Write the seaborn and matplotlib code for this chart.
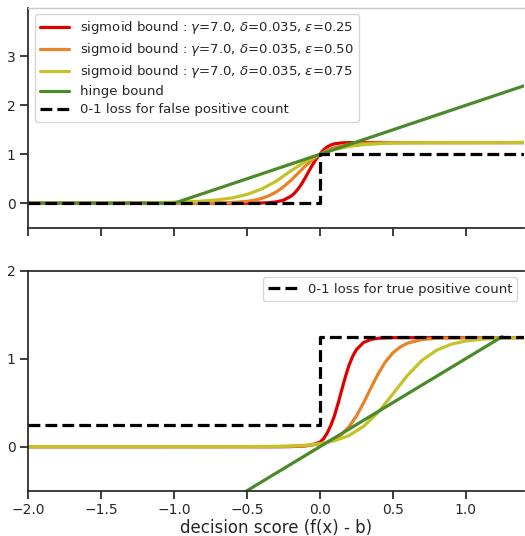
import numpy as np
import pandas as pd
import matplotlib
matplotlib.use("Agg")
import matplotlib.pyplot as plt
import seaborn as sns

# ---------------- data ----------------
# top panel: false-positive bounds
top_red_x = [-2.0, -0.5, -0.4, -0.35, -0.3, -0.25, -0.2, -0.175, -0.15, -0.125, -0.1, -0.075,
             -0.05, -0.025, 0.0, 0.025, 0.05, 0.075, 0.1, 0.15, 0.2, 0.3, 0.5, 1.4]
top_red_y = [0.0, 0.0, 0.005, 0.011, 0.027, 0.062, 0.14, 0.203, 0.289, 0.397, 0.523, 0.658,
             0.789, 0.906, 1.0, 1.09, 1.15, 1.19, 1.215, 1.233, 1.238, 1.24, 1.24, 1.24]

top_orange_x = [-2.0, -1.0, -0.8, -0.7, -0.6, -0.5, -0.45, -0.4, -0.35, -0.3, -0.25, -0.2,
                -0.15, -0.1, -0.05, 0.0, 0.05, 0.1, 0.15, 0.2, 0.25, 0.3, 0.4, 0.5, 1.4]
top_orange_y = [0.0, 0.0, 0.002, 0.006, 0.015, 0.039, 0.062, 0.098, 0.152, 0.229, 0.334, 0.464,
                0.611, 0.759, 0.892, 1.0, 1.08, 1.136, 1.174, 1.199, 1.214, 1.224, 1.234, 1.238, 1.24]

top_yellow_x = [-2.0, -1.5, -1.2, -1.0, -0.9, -0.8, -0.7, -0.6, -0.5, -0.4, -0.3, -0.2,
                -0.1, 0.0, 0.1, 0.2, 0.3, 0.4, 0.5, 0.6, 0.8, 1.4]
top_yellow_y = [0.0, 0.0, 0.005, 0.02, 0.03, 0.045, 0.07, 0.11, 0.18, 0.29, 0.45, 0.66,
                0.85, 1.0, 1.1, 1.161, 1.197, 1.217, 1.228, 1.233, 1.238, 1.24]

top_hinge_x = [-2.0, -1.0, 1.4]
top_hinge_y = [0.0, 0.0, 2.4]

top_step_x = [-2.0, 0.0, 0.0, 1.4]
top_step_y = [0.0, 0.0, 1.0, 1.0]

# bottom panel: true-positive bounds
bot_red_x = [-2.0, -0.3, -0.2, -0.1, -0.05, 0.0, 0.025, 0.05, 0.075, 0.1, 0.125, 0.15, 0.175,
             0.2, 0.225, 0.25, 0.3, 0.35, 0.4, 0.5, 1.4]
bot_red_y = [0.0, 0.0, 0.001, 0.009, 0.024, 0.05, 0.09, 0.155, 0.241, 0.353, 0.492, 0.645, 0.795,
             0.926, 1.028, 1.102, 1.185, 1.219, 1.232, 1.239, 1.24]

bot_orange_x = [-2.0, -0.3, -0.2, -0.1, 0.0, 0.05, 0.1, 0.15, 0.2, 0.25, 0.3, 0.35, 0.4,
                0.45, 0.5, 0.55, 0.6, 0.7, 0.8, 1.0, 1.4]
bot_orange_y = [0.0, 0.001, 0.003, 0.01, 0.03, 0.051, 0.086, 0.142, 0.227, 0.347, 0.499, 0.668,
                0.83, 0.965, 1.065, 1.132, 1.176, 1.218, 1.232, 1.238, 1.24]

bot_yellow_x = [-2.0, -0.5, -0.3, -0.2, -0.1, 0.0, 0.1, 0.2, 0.3, 0.4, 0.5, 0.6, 0.7, 0.8,
                0.9, 1.0, 1.1, 1.2, 1.4]
bot_yellow_y = [0.0, 0.001, 0.004, 0.009, 0.017, 0.034, 0.067, 0.127, 0.232, 0.392, 0.598, 0.809,
                0.981, 1.096, 1.164, 1.201, 1.22, 1.23, 1.238]

bot_hinge_x = [-2.0, 1.25]
bot_hinge_y = [-2.0, 1.25]

bot_step_x = [-2.0, 0.0, 0.0, 1.4]
bot_step_y = [0.25, 0.25, 1.25, 1.25]

labels_sig = [r"sigmoid bound : $\gamma$=7.0, $\delta$=0.035, $\varepsilon$=0.25",
              r"sigmoid bound : $\gamma$=7.0, $\delta$=0.035, $\varepsilon$=0.50",
              r"sigmoid bound : $\gamma$=7.0, $\delta$=0.035, $\varepsilon$=0.75"]
label_hinge = "hinge bound"
label_fp = "0-1 loss for false positive count"
label_tp = "0-1 loss for true positive count"
xlabel = "decision score (f(x) - b)"

top_yticks = [0, 1, 2, 3]
bot_yticks = [0, 1, 2]
x_ticks = [-2.0, -1.5, -1.0, -0.5, 0.0, 0.5, 1.0]

# ---------------- style ----------------
sns.set_style("ticks")
plt.rcParams["font.family"] = ["DejaVu Sans"]
plt.rcParams["axes.edgecolor"] = "#262626"
plt.rcParams["xtick.color"] = "#262626"
plt.rcParams["ytick.color"] = "#262626"

c_red = "#e00000"
c_orange = "#e8832a"
c_yellow = "#c3c22a"
c_green = "#4b8a28"
LW = 2.3

fig = plt.figure(figsize=(5.25, 5.36), dpi=100)
W, H = 525.0, 536.0
x0, x1 = 28.3, 524.0
ax_top = fig.add_axes([x0 / W, (H - 227.7) / H, (x1 - x0) / W, 220.2 / H])
ax_bot = fig.add_axes([x0 / W, (H - 490.7) / H, (x1 - x0) / W, 220.0 / H], sharex=ax_top)


def draw(ax, xs, ys, color, label=None, ls="-"):
    df = pd.DataFrame({"x": xs, "y": ys})
    sns.lineplot(data=df, x="x", y="y", ax=ax, color=color, lw=LW, ls=ls,
                 label=label, sort=False, estimator=None)


draw(ax_top, top_red_x, top_red_y, c_red, labels_sig[0])
draw(ax_top, top_orange_x, top_orange_y, c_orange, labels_sig[1])
draw(ax_top, top_yellow_x, top_yellow_y, c_yellow, labels_sig[2])
draw(ax_top, top_hinge_x, top_hinge_y, c_green, label_hinge)
draw(ax_top, top_step_x, top_step_y, "black", label_fp, ls="--")

draw(ax_bot, bot_red_x, bot_red_y, c_red)
draw(ax_bot, bot_orange_x, bot_orange_y, c_orange)
draw(ax_bot, bot_yellow_x, bot_yellow_y, c_yellow)
draw(ax_bot, bot_hinge_x, bot_hinge_y, c_green)
draw(ax_bot, bot_step_x, bot_step_y, "black", label_tp, ls="--")

ax_top.set_xlim(-2.0, 1.4)
ax_top.set_ylim(-0.5, 4.0)
ax_top.set_yticks(top_yticks)
ax_bot.set_ylim(-0.5, 2.0)
ax_bot.set_yticks(bot_yticks)
ax_bot.set_xticks(x_ticks)
ax_bot.set_xticklabels([f"{v:.1f}".replace("-", "\u2212") for v in x_ticks])

for ax in (ax_top, ax_bot):
    ax.spines["right"].set_visible(False)
    ax.tick_params(axis="both", labelsize=10, length=6, width=1.25, pad=3)
    ax.set_ylabel("")
    for s in ax.spines.values():
        s.set_linewidth(1.25)

ax_top.spines["top"].set_color("#c8c8c8")
ax_top.spines["top"].set_linewidth(1.0)

ax_top.tick_params(axis="x", labelbottom=False)
ax_top.set_xlabel("")
ax_bot.set_xlabel(xlabel, fontsize=12, labelpad=1)

ax_top.legend(loc="upper left", fontsize=9.5, labelspacing=0.38, handlelength=2.2,
              borderpad=0.4)
ax_bot.legend(loc="upper right", fontsize=9.5, handlelength=2.2, borderpad=0.4)

fig.savefig("out.png", dpi=100)
